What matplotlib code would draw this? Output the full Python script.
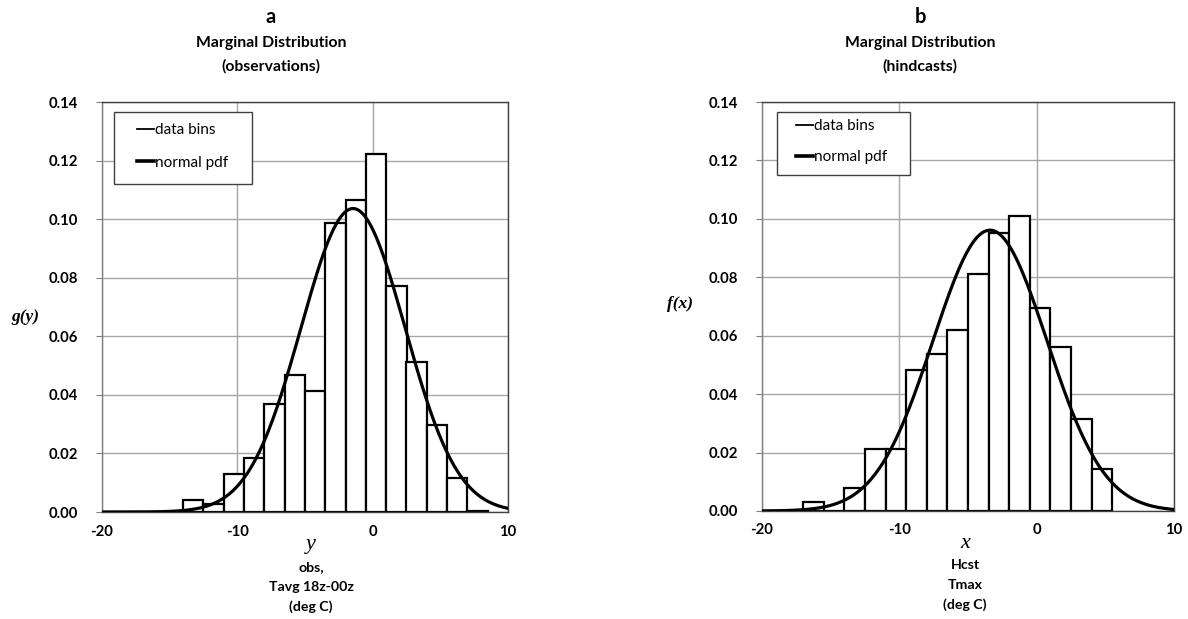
import numpy as np
import matplotlib.pyplot as plt
from matplotlib.lines import Line2D
from matplotlib.patches import Rectangle

# histogram bin edges (deg C) and relative frequencies
obs_edges = [-20.0, -18.5, -17.0, -15.5, -14.0, -12.5, -11.0, -9.5, -8.0, -6.5,
             -5.0, -3.5, -2.0, -0.5, 1.0, 2.5, 4.0, 5.5, 7.0, 8.5]
obs_freq = [0.0, 0.0, 0.0, 0.0, 0.0040, 0.0027, 0.0130, 0.0184, 0.0368, 0.0469,
            0.0414, 0.0988, 0.1065, 0.1222, 0.0772, 0.0512, 0.0297, 0.0117, 0.0005]

hcst_edges = [-20.0, -18.5, -17.0, -15.5, -14.0, -12.5, -11.0, -9.5, -8.0, -6.5,
              -5.0, -3.5, -2.0, -0.5, 1.0, 2.5, 4.0, 5.5]
hcst_freq = [0.0, 0.0, 0.0031, 0.0, 0.0078, 0.0213, 0.0213, 0.0481, 0.0538, 0.0618,
             0.0810, 0.0953, 0.1010, 0.0696, 0.0561, 0.0315, 0.0145]

# fitted normal pdf parameters (mean, std dev)
obs_mu, obs_sigma = -1.45, 3.85
hcst_mu, hcst_sigma = -3.4, 4.15

x_ticks = [-20, -10, 0, 10]
y_ticks = [0.0, 0.02, 0.04, 0.06, 0.08, 0.10, 0.12, 0.14]
legend_labels = ['data bins', 'normal pdf']

SANS = 'Lato'
SERIF = 'Liberation Serif'


def draw_panel(ax, edges, freq, mu, sigma, box, leg_anchor, spacing):
    edges = np.array(edges)
    widths = np.diff(edges)
    ax.bar(edges[:-1], freq, width=widths, align='edge', facecolor='white',
           edgecolor='black', linewidth=1.6, zorder=2)
    xs = np.linspace(-20, 10, 400)
    pdf = np.exp(-0.5 * ((xs - mu) / sigma) ** 2) / (sigma * np.sqrt(2 * np.pi))
    ax.plot(xs, pdf, color='black', linewidth=2.3, zorder=3)

    ax.set_xlim(-20, 10)
    ax.set_ylim(0, 0.14)
    ax.set_xticks(x_ticks)
    ax.set_yticks(y_ticks)
    ax.set_xticklabels([str(t) for t in x_ticks])
    ax.set_yticklabels(['%.2f' % t for t in y_ticks])
    ax.grid(True, color='#a6a6a6', linewidth=1, zorder=0)
    ax.set_axisbelow(True)
    for s in ax.spines.values():
        s.set_color('#404040')
        s.set_linewidth(1)
    ax.spines['left'].set_color('#7f7f7f')
    ax.tick_params(axis='y', length=4, color='#7f7f7f', pad=13)
    ax.tick_params(axis='x', length=0, pad=9)
    for lab in ax.get_xticklabels() + ax.get_yticklabels():
        lab.set_fontfamily(SANS)
        lab.set_fontweight('bold')
        lab.set_fontsize(10.7)

    # legend box (drawn separately so its size matches the original)
    x0, y0, x1, y1 = box
    ax.add_patch(Rectangle((x0, y0), x1 - x0, y1 - y0, transform=ax.transAxes,
                           facecolor='white', edgecolor='#404040', linewidth=1,
                           zorder=5))
    handles = [Line2D([0], [0], color='black', linewidth=1.3),
               Line2D([0], [0], color='black', linewidth=2.6)]
    leg = ax.legend(handles, legend_labels, loc='upper left',
                    bbox_to_anchor=leg_anchor, borderaxespad=0, borderpad=0,
                    handlelength=1.1, handletextpad=0.05, labelspacing=spacing,
                    frameon=False, prop={'family': SANS, 'size': 11})
    leg.set_zorder(6)


fig = plt.figure(figsize=(11.88, 6.19), dpi=100)
W, H = 1188, 619
ax1 = fig.add_axes([102 / W, 1 - 512 / H, 406 / W, 410 / H])
ax2 = fig.add_axes([762 / W, 1 - 511 / H, 412 / W, 409 / H])

draw_panel(ax1, obs_edges, obs_freq, obs_mu, obs_sigma,
           (0.0296, 0.8007, 0.370, 0.976), (0.087, 0.949), 1.22)
draw_panel(ax2, hcst_edges, hcst_freq, hcst_mu, hcst_sigma,
           (0.0357, 0.821, 0.360, 0.976), (0.083, 0.958), 1.13)

# titles
for cx, letter, sub in [(271, 'a', '(observations)'), (920, 'b', '(hindcasts)')]:
    fig.text(cx / W, 1 - 17 / H, letter, ha='center', va='center',
             fontfamily=SANS, fontweight='bold', fontsize=14.5)
    fig.text(cx / W, 1 - 43 / H, 'Marginal Distribution', ha='center', va='center',
             fontfamily=SANS, fontweight='bold', fontsize=11.3)
    fig.text(cx / W, 1 - 66 / H, sub, ha='center', va='center',
             fontfamily=SANS, fontweight='bold', fontsize=11.3)

# y-axis labels
fig.text(25 / W, 1 - 317 / H, 'g(y)', ha='center', va='center',
         fontfamily=SERIF, fontstyle='italic', fontweight='bold', fontsize=12.5)
fig.text(680 / W, 1 - 304 / H, 'f(x)', ha='center', va='center',
         fontfamily=SERIF, fontstyle='italic', fontweight='bold', fontsize=12.5)

# x-axis labels
fig.text(311 / W, 1 - 545 / H, 'y', ha='center', va='center',
         fontfamily=SERIF, fontstyle='italic', fontsize=16)
for i, line in enumerate(['obs,', 'Tavg 18z-00z', '(deg C)']):
    fig.text(311 / W, 1 - (567 + 20 * i) / H, line, ha='center', va='center',
             fontfamily=SANS, fontweight='bold', fontsize=10.2)
fig.text(965 / W, 1 - 544 / H, 'x', ha='center', va='center',
         fontfamily=SERIF, fontstyle='italic', fontsize=16)
for i, line in enumerate(['Hcst', 'Tmax', '(deg C)']):
    fig.text(965 / W, 1 - (565 + 20 * i) / H, line, ha='center', va='center',
             fontfamily=SANS, fontweight='bold', fontsize=10.2)

fig.savefig('out.png', dpi=100, facecolor='white')
